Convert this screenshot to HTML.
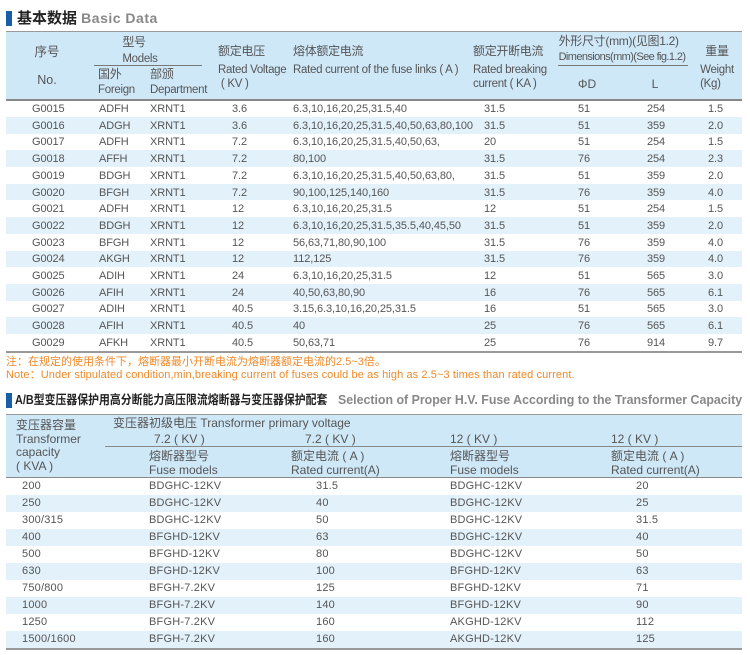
<!DOCTYPE html>
<html><head><meta charset="utf-8">
<style>
*{margin:0;padding:0;box-sizing:border-box}
body{width:750px;height:655px;background:#fff;position:relative;overflow:hidden;font-family:"Liberation Sans","Noto Sans CJK SC",sans-serif;color:#555}
.a{position:absolute;white-space:nowrap;font-size:12px;line-height:14px}
.c{transform:translateX(-50%)}
.hb{position:absolute;background:#cfe8f8}
.rb{position:absolute;left:6px;width:736px;background:#e3f1fb}
.ln{position:absolute;background:#999}
.cond{letter-spacing:-0.3px}
.e{font-size:11.5px}
</style></head><body>
<!-- title 1 -->
<div style="position:absolute;left:6px;top:11px;width:6px;height:15px;background:#1a5ea8"></div>
<div class="a" style="left:17px;top:10px;font-size:15px;line-height:17px;font-weight:bold;color:#222">基本数据 <span style="color:#888;font-size:14px;letter-spacing:0.5px">Basic Data</span></div>

<!-- header 1 -->
<div class="hb" style="left:6px;top:32px;width:736px;height:68px"></div>
<div class="ln" style="left:6px;top:31px;width:736px;height:1px"></div>
<div class="ln" style="left:6px;top:99px;width:736px;height:2px;background:#888"></div>
<div class="ln" style="left:94px;top:65px;width:108px;height:1px;background:#777"></div>
<div class="ln" style="left:558px;top:65px;width:130px;height:1px;background:#777"></div>
<div class="a c" style="left:47px;top:45px;font-size:12.5px">序号</div>
<div class="a c" style="left:47px;top:73px;font-size:12.5px">No.</div>
<div class="a c cond" style="left:140px;top:34px;line-height:16px">型号<br><span class="e">Models</span></div>
<div class="a cond" style="left:98px;top:67px;line-height:15px">国外<br><span class="e">Foreign</span></div>
<div class="a cond" style="left:150px;top:67px;line-height:15px">部颁<br><span class="e">Department</span></div>
<div class="a cond" style="left:218px;top:44px">额定电压</div>
<div class="a cond e" style="left:218px;top:63px">Rated Voltage<br>&nbsp;( KV )</div>
<div class="a cond" style="left:293px;top:44px">熔体额定电流</div>
<div class="a cond e" style="left:293px;top:63px">Rated current of the fuse links ( A )</div>
<div class="a cond" style="left:473px;top:44px">额定开断电流</div>
<div class="a cond e" style="left:473px;top:63px">Rated breaking<br>current ( KA )</div>
<div class="a c cond" style="left:622px;top:34px;line-height:15px">外形尺寸(mm)(见图1.2)<br><span style="font-size:11px;letter-spacing:-0.6px">Dimensions(mm)(See fig.1.2)</span></div>
<div class="a c" style="left:587px;top:77px">ΦD</div>
<div class="a c" style="left:655px;top:77px">L</div>
<div class="a c cond" style="left:717px;top:44px">重量</div>
<div class="a c cond e" style="left:717px;top:63px">Weight<br>(Kg)</div>

<!-- rows 1 -->
<div class="rb" style="top:117px;height:16.7px"></div>
<div class="rb" style="top:150.4px;height:16.7px"></div>
<div class="rb" style="top:183.8px;height:16.7px"></div>
<div class="rb" style="top:217.2px;height:16.7px"></div>
<div class="rb" style="top:250.6px;height:16.7px"></div>
<div class="rb" style="top:284px;height:16.7px"></div>
<div class="rb" style="top:317.4px;height:16.7px"></div>
<div class="ln" style="left:6px;top:351px;width:736px;height:2px;background:#999"></div>

<div style="position:absolute;left:0;top:101px;width:750px;font-size:11px;line-height:16.7px;letter-spacing:-0.1px">
<div style="position:absolute;left:32px;top:0">G0015<br>G0016<br>G0017<br>G0018<br>G0019<br>G0020<br>G0021<br>G0022<br>G0023<br>G0024<br>G0025<br>G0026<br>G0027<br>G0028<br>G0029</div>
<div style="position:absolute;left:99px;top:0">ADFH<br>ADGH<br>ADFH<br>AFFH<br>BDGH<br>BFGH<br>ADFH<br>BDGH<br>BFGH<br>AKGH<br>ADIH<br>AFIH<br>ADIH<br>AFIH<br>AFKH</div>
<div style="position:absolute;left:150px;top:0">XRNT1<br>XRNT1<br>XRNT1<br>XRNT1<br>XRNT1<br>XRNT1<br>XRNT1<br>XRNT1<br>XRNT1<br>XRNT1<br>XRNT1<br>XRNT1<br>XRNT1<br>XRNT1<br>XRNT1</div>
<div style="position:absolute;left:232px;top:0">3.6<br>3.6<br>7.2<br>7.2<br>7.2<br>7.2<br>12<br>12<br>12<br>12<br>24<br>24<br>40.5<br>40.5<br>40.5</div>
<div style="position:absolute;left:293px;top:0">6.3,10,16,20,25,31.5,40<br>6.3,10,16,20,25,31.5,40,50,63,80,100<br>6.3,10,16,20,25,31.5,40,50,63,<br>80,100<br>6.3,10,16,20,25,31.5,40,50,63,80,<br>90,100,125,140,160<br>6.3,10,16,20,25,31.5<br>6.3,10,16,20,25,31.5,35.5,40,45,50<br>56,63,71,80,90,100<br>112,125<br>6.3,10,16,20,25,31.5<br>40,50,63,80,90<br>3.15,6.3,10,16,20,25,31.5<br>40<br>50,63,71</div>
<div style="position:absolute;left:484px;top:0">31.5<br>31.5<br>20<br>31.5<br>31.5<br>31.5<br>12<br>31.5<br>31.5<br>31.5<br>12<br>16<br>16<br>25<br>25</div>
<div style="position:absolute;left:578px;top:0">51<br>51<br>51<br>76<br>51<br>76<br>51<br>51<br>76<br>76<br>51<br>76<br>51<br>76<br>76</div>
<div style="position:absolute;left:647px;top:0">254<br>359<br>254<br>254<br>359<br>359<br>254<br>359<br>359<br>359<br>565<br>565<br>565<br>565<br>914</div>
<div style="position:absolute;left:708px;top:0">1.5<br>2.0<br>1.5<br>2.3<br>2.0<br>4.0<br>1.5<br>2.0<br>4.0<br>4.0<br>3.0<br>6.1<br>3.0<br>6.1<br>9.7</div>
</div>

<!-- note -->
<div class="a" style="left:6px;top:355px;font-size:11px;color:#ee8a2a">注：在规定的使用条件下，熔断器最小开断电流为熔断器额定电流的2.5~3倍。</div>
<div class="a" style="left:6px;top:368px;font-size:11px;color:#ee8a2a;letter-spacing:0.1px">Note：Under stipulated condition,min,breaking current of fuses could be as high as 2.5~3 times than rated current.</div>

<!-- title 2 -->
<div style="position:absolute;left:6px;top:393px;width:6px;height:15px;background:#1a5ea8"></div>
<div class="a" style="left:15px;top:393px;font-size:12.5px;line-height:15px;font-weight:bold;color:#222;transform:scaleX(0.87);transform-origin:0 0">A/B型变压器保护用高分断能力高压限流熔断器与变压器保护配套</div>
<div class="a" style="left:338px;top:393px;font-size:12.5px;line-height:15px;font-weight:bold;color:#888;transform:scaleX(0.99);transform-origin:0 0">Selection of Proper H.V. Fuse According to the Transformer Capacity</div>

<!-- header 2 -->
<div class="hb" style="left:6px;top:415px;width:736px;height:63px"></div>
<div class="ln" style="left:6px;top:414px;width:736px;height:1px"></div>
<div class="ln" style="left:6px;top:477px;width:736px;height:1px;background:#888"></div>
<div class="ln" style="left:105px;top:446px;width:637px;height:1px;background:#888"></div>
<div class="a" style="left:16px;top:419px;font-size:12px;line-height:13.5px">变压器容量<br>Transformer<br>capacity<br>( KVA )</div>
<div class="a" style="left:113px;top:416px;font-size:12px">变压器初级电压 Transformer primary voltage</div>
<div class="a" style="left:154px;top:432px;font-size:12px">7.2 ( KV )</div>
<div class="a" style="left:305px;top:432px;font-size:12px">7.2 ( KV )</div>
<div class="a" style="left:450px;top:432px;font-size:12px">12 ( KV )</div>
<div class="a" style="left:611px;top:432px;font-size:12px">12 ( KV )</div>
<div class="a" style="left:149px;top:449px;font-size:12px">熔断器型号<br>Fuse models</div>
<div class="a" style="left:291px;top:449px;font-size:12px">额定电流 ( A )<br>Rated current(A)</div>
<div class="a" style="left:450px;top:449px;font-size:12px">熔断器型号<br>Fuse models</div>
<div class="a" style="left:611px;top:449px;font-size:12px">额定电流 ( A )<br>Rated current(A)</div>

<!-- rows 2 -->
<div class="rb" style="top:495px;height:17px"></div>
<div class="rb" style="top:529px;height:17px"></div>
<div class="rb" style="top:563px;height:17px"></div>
<div class="rb" style="top:597px;height:17px"></div>
<div class="rb" style="top:631px;height:17px"></div>
<div class="ln" style="left:6px;top:648px;width:736px;height:2px;background:#999"></div>
<div style="position:absolute;left:0;top:478px;width:750px;font-size:11px;line-height:17px;letter-spacing:0.2px">
<div style="position:absolute;left:22px;top:0">200<br>250<br>300/315<br>400<br>500<br>630<br>750/800<br>1000<br>1250<br>1500/1600</div>
<div style="position:absolute;left:149px;top:0">BDGHC-12KV<br>BDGHC-12KV<br>BDGHC-12KV<br>BFGHD-12KV<br>BFGHD-12KV<br>BFGHD-12KV<br>BFGH-7.2KV<br>BFGH-7.2KV<br>BFGH-7.2KV<br>BFGH-7.2KV</div>
<div style="position:absolute;left:316px;top:0">31.5<br>40<br>50<br>63<br>80<br>100<br>125<br>140<br>160<br>160</div>
<div style="position:absolute;left:450px;top:0">BDGHC-12KV<br>BDGHC-12KV<br>BDGHC-12KV<br>BDGHC-12KV<br>BDGHC-12KV<br>BFGHD-12KV<br>BFGHD-12KV<br>BFGHD-12KV<br>AKGHD-12KV<br>AKGHD-12KV</div>
<div style="position:absolute;left:636px;top:0">20<br>25<br>31.5<br>40<br>50<br>63<br>71<br>90<br>112<br>125</div>
</div>
</body></html>
